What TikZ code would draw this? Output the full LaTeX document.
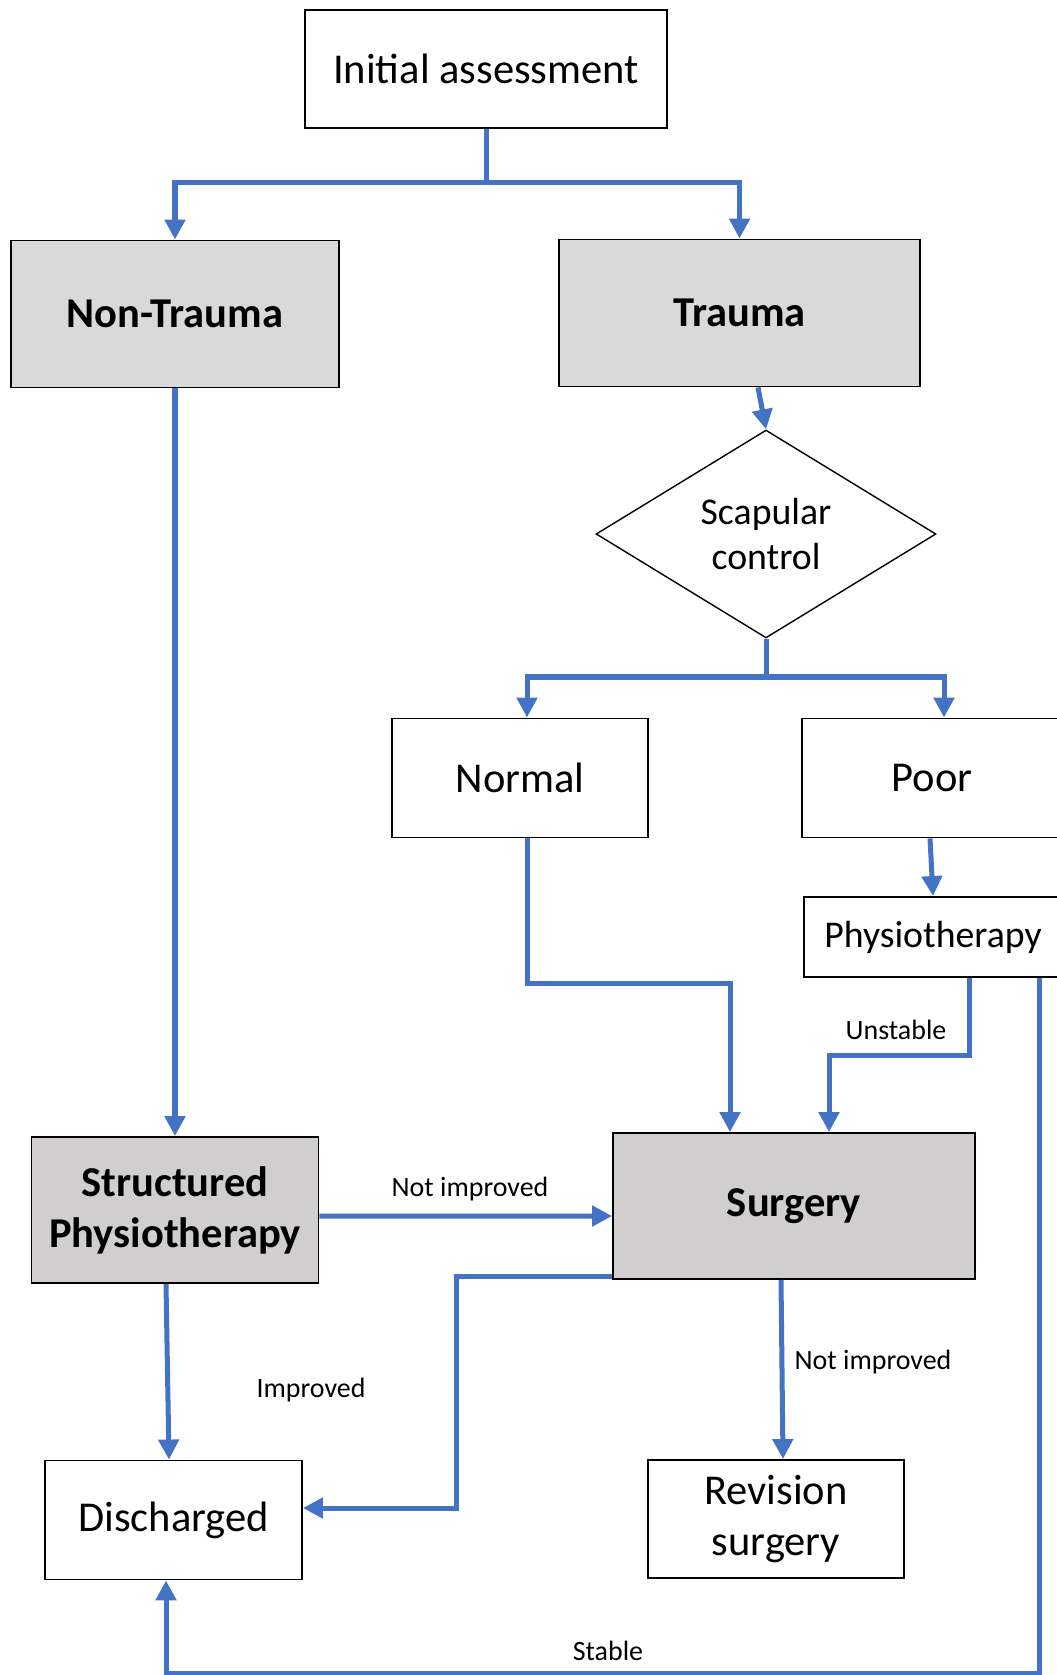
\documentclass[tikz,border=0pt]{standalone}
\usepackage{fontspec}
\setmainfont{Carlito}
\usepackage{tikz}
\usetikzlibrary{shapes.geometric}
\usetikzlibrary{arrows.meta}
\usepackage{xcolor}
\definecolor{flowblue}{HTML}{4472C4}
\definecolor{boxgray}{HTML}{D9D9D9}
\definecolor{opgray}{HTML}{D0CECE}

\begin{document}
\begin{tikzpicture}[x=0.02cm, y=-0.02cm,
box/.style={draw=black, line width=1.1pt, align=center, inner sep=0pt, font=\fontsize{24.2}{29}\selectfont},
graybox/.style={box, fill=boxgray, font=\fontsize{24.2}{29}\selectfont\bfseries},
flow/.style={flowblue, line width=2.85pt},
arrow/.style={flow, -{Triangle[length=0.4cm, width=0.4cm]}},
lbl/.style={font=\fontsize{15.9}{18}\selectfont}]

\clip (0,0) rectangle (1057,1675);
\fill[white] (0,0) rectangle (1057,1675);

% boxes
{
\node[box, minimum width=7.24cm, minimum height=2.36cm] (init) at (486,69) {Initial assessment};

\node[graybox, minimum width=6.56cm, minimum height=2.94cm] (nontrauma) at (175,314) {Non-Trauma};
\node[graybox, minimum width=7.22cm, minimum height=2.94cm] (trauma) at (739.5,313) {Trauma};

\node[diamond, aspect=1.6, draw=black, line width=0.8pt, minimum width=6.8cm, minimum height=4.16cm, inner sep=0pt, align=center, font=\fontsize{21.5}{25.5}\selectfont] (scap) at (766,534) {Scapular\\control};

\node[box, minimum width=5.12cm, minimum height=2.38cm] (normal) at (520,778) {Normal};
\node[box, minimum width=5.2cm, minimum height=2.38cm] (poor) at (932,778) {Poor};
\node[box, minimum width=5.16cm, minimum height=1.6cm, font=\fontsize{21.5}{25}\selectfont] (physio) at (933,937) {Physiotherapy};

\node[graybox, fill=opgray, minimum width=5.74cm, minimum height=2.92cm] (structured) at (175,1210) {Structured\\Physiotherapy};
\node[graybox, fill=opgray, minimum width=7.24cm, minimum height=2.92cm] (surgery) at (794,1206) {Surgery};

\node[box, minimum width=5.14cm, minimum height=2.38cm] (discharged) at (173.5,1520) {Discharged};
\node[box, minimum width=5.12cm, minimum height=2.36cm] (revision) at (776,1519) {Revision\\surgery};
}

% bends of the blue lines
\coordinate (split1) at (486,183);
\coordinate (split2) at (766,677);
\coordinate (bendN) at (527,983);
\coordinate (bendU) at (969,1055);
\coordinate (bendS) at (1039,1673);
\coordinate (bendR) at (456,1508);

% blue lines
{
\draw[flow] (init) -- (split1);
\draw[arrow] (split1) -| (nontrauma);
\draw[arrow] (split1) -| (trauma);

\draw[arrow] (nontrauma.south) -- (structured.north);

\draw[arrow] ([xshift=0.37cm]trauma.south) -- (scap.north);

\draw[flow] (scap) -- (split2);
\draw[arrow] (split2) -| ([xshift=0.14cm]normal.north);
\draw[arrow] (split2) -| ([xshift=0.24cm]poor.north);

\draw[arrow] ([xshift=-0.04cm]poor.south) -- (physio.north);

\draw[arrow] (normal.south -| bendN) -- (bendN) -| ([xshift=-1.28cm]surgery.north);
\draw[arrow] (physio.south -| bendU) -- (bendU) -| ([xshift=0.7cm]surgery.north);
\draw[arrow] (physio.south -| bendS) -- (bendS) -| ([xshift=-0.15cm]discharged.south);

\draw[arrow] ([yshift=-0.12cm]structured.east) -- ([yshift=-0.2cm]surgery.west);
\draw[arrow] ([yshift=0.06cm]surgery.south west) -| (bendR) -- (discharged.east |- bendR);

\draw[arrow] ([xshift=-0.18cm]structured.south) -- ([xshift=-0.09cm]discharged.north);
\draw[arrow] ([xshift=-0.26cm]surgery.south) -- ([xshift=0.14cm]revision.north);
}

% labels
\node[lbl] (notimp1) at (470,1189) {Not improved};
\node[lbl] (unstable) at (896,1030) {Unstable};
\node[lbl] (improved) at (311,1390) {Improved};
\node[lbl] (notimp2) at (873,1362) {Not improved};
\node[lbl] (stable) at (608,1651) {Stable};

\end{tikzpicture}
\end{document}
